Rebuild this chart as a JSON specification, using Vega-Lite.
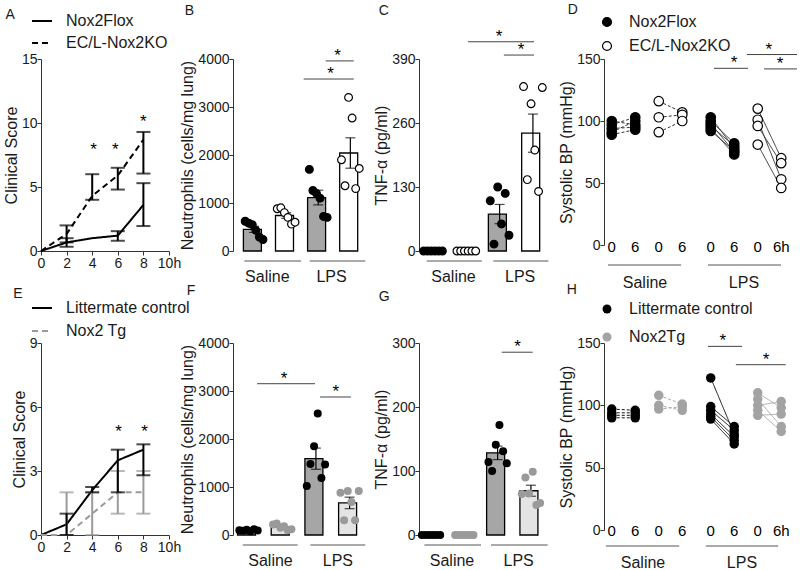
{
"$schema":"https://vega.github.io/schema/vega-lite/v6.json",
"padding":{"left":3,"top":3,"right":0,"bottom":0},
"columns":4,"bounds":"flush","align":"each",
"spacing":{"column":58,"row":92},
"resolve":{"scale":{"color":"independent","fill":"independent","stroke":"independent","strokeDash":"independent","xOffset":"independent"},"legend":{"color":"independent","fill":"independent","stroke":"independent","strokeDash":"independent"}},
"datasets":{
"A":[{"t":0,"s":"Nox2Flox","m":0},{"t":2,"s":"Nox2Flox","m":0.67,"lo":0.33,"hi":1.0},{"t":4,"s":"Nox2Flox","m":1.0},{"t":6,"s":"Nox2Flox","m":1.2,"lo":0.8,"hi":1.55},{"t":8,"s":"Nox2Flox","m":3.6,"lo":1.95,"hi":5.3},
{"t":0,"s":"EC/L-Nox2KO","m":0},{"t":2,"s":"EC/L-Nox2KO","m":1.33,"lo":0.67,"hi":2.0},{"t":4,"s":"EC/L-Nox2KO","m":4.3,"lo":4.0,"hi":6.0},{"t":6,"s":"EC/L-Nox2KO","m":5.9,"lo":4.8,"hi":6.5},{"t":8,"s":"EC/L-Nox2KO","m":8.7,"lo":6.05,"hi":9.3}],
"Astar":[{"t":4.1,"y":8.2},{"t":5.8,"y":8.2},{"t":8.0,"y":10.4}],
"E":[{"t":0,"s":"Littermate control","m":0},{"t":2,"s":"Littermate control","m":0.5,"lo":0,"hi":1.0},{"t":4,"s":"Littermate control","m":2.1,"lo":2.0,"hi":2.25},{"t":6,"s":"Littermate control","m":3.5,"lo":2.0,"hi":4.0},{"t":8,"s":"Littermate control","m":4.0,"lo":2.8,"hi":4.25},
{"t":0,"s":"Nox2 Tg","m":0},{"t":2,"s":"Nox2 Tg","m":0,"lo":0,"hi":2},{"t":4,"s":"Nox2 Tg","m":1,"lo":0,"hi":2},{"t":6,"s":"Nox2 Tg","m":2,"lo":1,"hi":3},{"t":8,"s":"Nox2 Tg","m":2,"lo":1,"hi":3}],
"Estar":[{"t":6.05,"y":5.0},{"t":8.1,"y":5.0}],
"B":[{"c":"S-F","a":"1","v":620},{"c":"S-F","a":"2","v":580},{"c":"S-F","a":"3","v":550},{"c":"S-F","a":"4","v":430},{"c":"S-F","a":"5","v":290},{"c":"S-F","a":"6","v":240},
{"c":"S-K","a":"1","v":880},{"c":"S-K","a":"2","v":900},{"c":"S-K","a":"3","v":800},{"c":"S-K","a":"4","v":700},{"c":"S-K","a":"5","v":560},{"c":"S-K","a":"6","v":600},
{"c":"L-F","a":"1","v":1700},{"c":"L-F","a":"2","v":1260},{"c":"L-F","a":"3","v":1200},{"c":"L-F","a":"4","v":1100},{"c":"L-F","a":"5","v":720},{"c":"L-F","a":"6","v":700},
{"c":"L-K","a":"3","v":3200},{"c":"L-K","a":"4","v":2770},{"c":"L-K","a":"1","v":1900},{"c":"L-K","a":"6","v":1720},{"c":"L-K","a":"2","v":1360},{"c":"L-K","a":"5","v":1300}],
"C":[{"c":"S-F","a":"1","v":0},{"c":"S-F","a":"2","v":0},{"c":"S-F","a":"3","v":0},{"c":"S-F","a":"4","v":0},{"c":"S-F","a":"5","v":0},{"c":"S-F","a":"6","v":0},
{"c":"S-K","a":"1","v":0},{"c":"S-K","a":"2","v":0},{"c":"S-K","a":"3","v":0},{"c":"S-K","a":"4","v":0},{"c":"S-K","a":"5","v":0},{"c":"S-K","a":"6","v":0},
{"c":"L-F","a":"3","v":130},{"c":"L-F","a":"5","v":117},{"c":"L-F","a":"1","v":102},{"c":"L-F","a":"4","v":55},{"c":"L-F","a":"6","v":32},{"c":"L-F","a":"2","v":14},
{"c":"L-K","a":"1","v":334},{"c":"L-K","a":"6","v":332},{"c":"L-K","a":"3","v":299},{"c":"L-K","a":"4","v":205},{"c":"L-K","a":"2","v":145},{"c":"L-K","a":"5","v":121}],
"F":[{"c":"S-F","a":"1","v":100},{"c":"S-F","a":"2","v":90},{"c":"S-F","a":"3","v":110},{"c":"S-F","a":"4","v":80},{"c":"S-F","a":"5","v":120},{"c":"S-F","a":"6","v":95},
{"c":"S-K","a":"1","v":220},{"c":"S-K","a":"2","v":240},{"c":"S-K","a":"3","v":150},{"c":"S-K","a":"4","v":180},{"c":"S-K","a":"5","v":100},{"c":"S-K","a":"6","v":120},
{"c":"L-F","a":"4","v":2530},{"c":"L-F","a":"3","v":1850},{"c":"L-F","a":"2","v":1480},{"c":"L-F","a":"6","v":1470},{"c":"L-F","a":"1","v":1020},{"c":"L-F","a":"5","v":1190},
{"c":"L-K","a":"1","v":880},{"c":"L-K","a":"3","v":915},{"c":"L-K","a":"6","v":915},{"c":"L-K","a":"4","v":690},{"c":"L-K","a":"2","v":305},{"c":"L-K","a":"5","v":305}],
"G":[{"c":"S-F","a":"1","v":0},{"c":"S-F","a":"2","v":0},{"c":"S-F","a":"3","v":0},{"c":"S-F","a":"4","v":0},{"c":"S-F","a":"5","v":0},{"c":"S-F","a":"6","v":0},
{"c":"S-K","a":"1","v":0},{"c":"S-K","a":"2","v":0},{"c":"S-K","a":"3","v":0},{"c":"S-K","a":"4","v":0},{"c":"S-K","a":"5","v":0},{"c":"S-K","a":"6","v":0},
{"c":"L-F","a":"4","v":172},{"c":"L-F","a":"3","v":141},{"c":"L-F","a":"1","v":114},{"c":"L-F","a":"5","v":131},{"c":"L-F","a":"6","v":112},{"c":"L-F","a":"2","v":100},
{"c":"L-K","a":"2","v":90},{"c":"L-K","a":"4","v":99},{"c":"L-K","a":"3","v":65},{"c":"L-K","a":"1","v":64},{"c":"L-K","a":"6","v":50},{"c":"L-K","a":"5","v":47}],
"D":[{"g":"Saline","s":"Nox2Flox","c":"F0","i":"a1","v":100},{"g":"Saline","s":"Nox2Flox","c":"F6","i":"a1","v":97},
{"g":"Saline","s":"Nox2Flox","c":"F0","i":"a2","v":97},{"g":"Saline","s":"Nox2Flox","c":"F6","i":"a2","v":103},
{"g":"Saline","s":"Nox2Flox","c":"F0","i":"a3","v":94},{"g":"Saline","s":"Nox2Flox","c":"F6","i":"a3","v":95},
{"g":"Saline","s":"Nox2Flox","c":"F0","i":"a4","v":91},{"g":"Saline","s":"Nox2Flox","c":"F6","i":"a4","v":100},
{"g":"Saline","s":"Nox2Flox","c":"F0","i":"a5","v":89},{"g":"Saline","s":"Nox2Flox","c":"F6","i":"a5","v":93},
{"g":"Saline","s":"EC/L-Nox2KO","c":"K0","i":"b1","v":116},{"g":"Saline","s":"EC/L-Nox2KO","c":"K6","i":"b1","v":107},
{"g":"Saline","s":"EC/L-Nox2KO","c":"K0","i":"b2","v":103},{"g":"Saline","s":"EC/L-Nox2KO","c":"K6","i":"b2","v":105},
{"g":"Saline","s":"EC/L-Nox2KO","c":"K0","i":"b3","v":91},{"g":"Saline","s":"EC/L-Nox2KO","c":"K6","i":"b3","v":100},
{"g":"LPS","s":"Nox2Flox","c":"F0","i":"c1","v":103},{"g":"LPS","s":"Nox2Flox","c":"F6","i":"c1","v":78},
{"g":"LPS","s":"Nox2Flox","c":"F0","i":"c2","v":100},{"g":"LPS","s":"Nox2Flox","c":"F6","i":"c2","v":82},
{"g":"LPS","s":"Nox2Flox","c":"F0","i":"c3","v":98},{"g":"LPS","s":"Nox2Flox","c":"F6","i":"c3","v":75},
{"g":"LPS","s":"Nox2Flox","c":"F0","i":"c4","v":96},{"g":"LPS","s":"Nox2Flox","c":"F6","i":"c4","v":80},
{"g":"LPS","s":"Nox2Flox","c":"F0","i":"c5","v":94},{"g":"LPS","s":"Nox2Flox","c":"F6","i":"c5","v":73},
{"g":"LPS","s":"Nox2Flox","c":"F0","i":"c6","v":92},{"g":"LPS","s":"Nox2Flox","c":"F6","i":"c6","v":76},
{"g":"LPS","s":"EC/L-Nox2KO","c":"K0","i":"d1","v":110},{"g":"LPS","s":"EC/L-Nox2KO","c":"K6","i":"d1","v":70},
{"g":"LPS","s":"EC/L-Nox2KO","c":"K0","i":"d2","v":101},{"g":"LPS","s":"EC/L-Nox2KO","c":"K6","i":"d2","v":53},
{"g":"LPS","s":"EC/L-Nox2KO","c":"K0","i":"d3","v":96},{"g":"LPS","s":"EC/L-Nox2KO","c":"K6","i":"d3","v":66},
{"g":"LPS","s":"EC/L-Nox2KO","c":"K0","i":"d4","v":81},{"g":"LPS","s":"EC/L-Nox2KO","c":"K6","i":"d4","v":46}],
"Dlab":[{"g":"Saline","c":"F0","l":"0"},{"g":"Saline","c":"F6","l":"6"},{"g":"Saline","c":"K0","l":"0"},{"g":"Saline","c":"K6","l":"6"},{"g":"LPS","c":"F0","l":"0"},{"g":"LPS","c":"F6","l":"6"},{"g":"LPS","c":"K0","l":"0"},{"g":"LPS","c":"K6","l":"6h"}],
"H":[{"g":"Saline","s":"Littermate control","c":"F0","i":"e1","v":97},{"g":"Saline","s":"Littermate control","c":"F6","i":"e1","v":96},
{"g":"Saline","s":"Littermate control","c":"F0","i":"e2","v":94},{"g":"Saline","s":"Littermate control","c":"F6","i":"e2","v":94},
{"g":"Saline","s":"Littermate control","c":"F0","i":"e3","v":92},{"g":"Saline","s":"Littermate control","c":"F6","i":"e3","v":92},
{"g":"Saline","s":"Littermate control","c":"F0","i":"e4","v":90},{"g":"Saline","s":"Littermate control","c":"F6","i":"e4","v":90},
{"g":"Saline","s":"Nox2Tg","c":"K0","i":"f1","v":108},{"g":"Saline","s":"Nox2Tg","c":"K6","i":"f1","v":101},
{"g":"Saline","s":"Nox2Tg","c":"K0","i":"f2","v":100},{"g":"Saline","s":"Nox2Tg","c":"K6","i":"f2","v":96},
{"g":"Saline","s":"Nox2Tg","c":"K0","i":"f3","v":97},{"g":"Saline","s":"Nox2Tg","c":"K6","i":"f3","v":99},
{"g":"LPS","s":"Littermate control","c":"F0","i":"h1","v":122},{"g":"LPS","s":"Littermate control","c":"F6","i":"h1","v":77},
{"g":"LPS","s":"Littermate control","c":"F0","i":"h2","v":99},{"g":"LPS","s":"Littermate control","c":"F6","i":"h2","v":83},
{"g":"LPS","s":"Littermate control","c":"F0","i":"h3","v":96},{"g":"LPS","s":"Littermate control","c":"F6","i":"h3","v":80},
{"g":"LPS","s":"Littermate control","c":"F0","i":"h4","v":93},{"g":"LPS","s":"Littermate control","c":"F6","i":"h4","v":75},
{"g":"LPS","s":"Littermate control","c":"F0","i":"h5","v":91},{"g":"LPS","s":"Littermate control","c":"F6","i":"h5","v":72},
{"g":"LPS","s":"Littermate control","c":"F0","i":"h6","v":89},{"g":"LPS","s":"Littermate control","c":"F6","i":"h6","v":69},
{"g":"LPS","s":"Nox2Tg","c":"K0","i":"j1","v":110},{"g":"LPS","s":"Nox2Tg","c":"K6","i":"j1","v":98},
{"g":"LPS","s":"Nox2Tg","c":"K0","i":"j2","v":105},{"g":"LPS","s":"Nox2Tg","c":"K6","i":"j2","v":83},
{"g":"LPS","s":"Nox2Tg","c":"K0","i":"j3","v":100},{"g":"LPS","s":"Nox2Tg","c":"K6","i":"j3","v":103},
{"g":"LPS","s":"Nox2Tg","c":"K0","i":"j4","v":96},{"g":"LPS","s":"Nox2Tg","c":"K6","i":"j4","v":79},
{"g":"LPS","s":"Nox2Tg","c":"K0","i":"j5","v":92},{"g":"LPS","s":"Nox2Tg","c":"K6","i":"j5","v":93}]
},
"concat":[
{"width":134,"height":192,"title":{"text":"A","offset":-12,"dx":2},
"layer":[
{"data":{"name":"A"},"mark":{"type":"line","color":"black","strokeWidth":2},
"encoding":{"x":{"field":"t","type":"quantitative","title":null,"scale":{"domain":[0,10],"nice":false,"range":[0,128]},"axis":{"values":[0,2,4,6,8,10],"tickCount":12,"labelExpr":"datum.value == 10 ? '10h' : datum.label","labelOverlap":false,"labelFlush":false,"labelPadding":1}},
"y":{"field":"m","type":"quantitative","title":"Clinical Score","scale":{"domain":[0,15],"nice":false},"axis":{"values":[0,5,10,15],"tickCount":10}},
"strokeDash":{"field":"s","type":"nominal","scale":{"domain":["Nox2Flox","EC/L-Nox2KO"],"range":[[1,0],[6,4]]},"legend":{"orient":"none","legendX":-10,"legendY":-49,"title":null,"symbolType":"stroke","symbolSize":400,"symbolStrokeWidth":2,"symbolStrokeColor":"black","rowPadding":3,"labelOffset":13}}}},
{"data":{"name":"A"},"transform":[{"filter":"isValid(datum.lo)"}],"mark":{"type":"errorbar","ticks":true,"size":14,"thickness":2,"color":"black"},
"encoding":{"x":{"field":"t","type":"quantitative","title":null},"y":{"field":"lo","type":"quantitative","title":"Clinical Score","scale":{"domain":[0,15],"nice":false}},"y2":{"field":"hi"}}},
{"data":{"name":"Astar"},"mark":{"type":"text","text":"*","fontSize":17,"baseline":"alphabetic","dy":9},
"encoding":{"x":{"field":"t","type":"quantitative","title":null},"y":{"field":"y","type":"quantitative","title":"Clinical Score"}}}
]},
{"width":128,"height":192,"title":{"text":"B","offset":29,"dx":5},"data":{"name":"B"},
"layer":[
{"mark":{"type":"bar","stroke":"black","strokeWidth":1.3},
"encoding":{"x":{"field":"c","type":"nominal","title":null,"scale":{"type":"band","domain":["S-F","S-K","L-F","L-K"],"paddingInner":0.336,"paddingOuter":0.162,"align":1},"axis":{"domain":false,"ticks":false,"labelAngle":0,"labelFontSize":16,"labelPadding":17,"labelOffset":13.3,"labelOverlap":false,"labelExpr":"datum.value == 'S-F' ? 'Saline' : datum.value == 'L-F' ? 'LPS' : ''"}},
"y":{"aggregate":"mean","field":"v","type":"quantitative","title":"Neutrophils (cells/mg lung)","scale":{"domain":[0,4000],"nice":false},"axis":{"values":[0,1000,2000,3000,4000],"tickCount":10,"format":"d"}},
"fill":{"field":"c","type":"nominal","scale":{"domain":["S-F","S-K","L-F","L-K"],"range":["#a6a6a6","white","#a6a6a6","white"]},"legend":null}}},
{"mark":{"type":"errorbar","extent":"stderr","ticks":true,"size":10,"thickness":1.2,"color":"black"},
"encoding":{"x":{"field":"c","type":"nominal","title":null},"y":{"field":"v","type":"quantitative","title":"Neutrophils (cells/mg lung)","scale":{"domain":[0,4000],"nice":false}}}},
{"mark":{"type":"point","filled":true,"size":60,"stroke":"black","strokeWidth":1.2,"opacity":1},
"encoding":{"x":{"field":"c","type":"nominal","title":null,"scale":{"type":"band","domain":["S-F","S-K","L-F","L-K"],"paddingInner":0.336,"paddingOuter":0.162,"align":1}},"xOffset":{"field":"a","type":"nominal","scale":{"domain":["1","2","3","4","5","6"],"paddingOuter":0.5}},"y":{"field":"v","type":"quantitative","title":"Neutrophils (cells/mg lung)","scale":{"domain":[0,4000],"nice":false}},
"color":{"field":"c","type":"nominal","scale":{"domain":["S-F","S-K","L-F","L-K"],"range":["black","white","black","white"]},"legend":null}}},
{"data":{"values":[{}]},"mark":{"type":"rule","color":"#555","yOffset":10},"encoding":{"x":{"datum":"S-F","type":"nominal","bandPosition":0.05},"x2":{"datum":"S-K","bandPosition":1.2},"y":{"datum":0,"type":"quantitative"}}},
{"data":{"values":[{}]},"mark":{"type":"rule","color":"#555","yOffset":10},"encoding":{"x":{"datum":"L-F","type":"nominal","bandPosition":0.1},"x2":{"datum":"L-K","bandPosition":1.2},"y":{"datum":0,"type":"quantitative"}}},
{"data":{"values":[{}]},"mark":{"type":"rule","color":"#444"},"encoding":{"x":{"datum":"S-K","type":"nominal","bandPosition":1.32},"x2":{"datum":"L-K","bandPosition":0.66},"y":{"datum":3583,"type":"quantitative"}}},
{"data":{"values":[{}]},"mark":{"type":"text","text":"*","fontSize":17,"baseline":"alphabetic","dy":0},"encoding":{"x":{"datum":"L-F","type":"nominal","bandPosition":1.08},"y":{"datum":3583,"type":"quantitative"}}},
{"data":{"values":[{}]},"mark":{"type":"rule","color":"#444"},"encoding":{"x":{"datum":"L-F","type":"nominal","bandPosition":0.85},"x2":{"datum":"L-K","bandPosition":0.66},"y":{"datum":3960,"type":"quantitative"}}},
{"data":{"values":[{}]},"mark":{"type":"text","text":"*","fontSize":17,"baseline":"alphabetic","dy":0},"encoding":{"x":{"datum":"L-F","type":"nominal","bandPosition":1.41},"y":{"datum":3960,"type":"quantitative"}}}
]},
{"width":127,"height":192,"title":{"text":"C","offset":10,"dx":5},"data":{"name":"C"},
"layer":[
{"mark":{"type":"bar","stroke":"black","strokeWidth":1.3},
"encoding":{"x":{"field":"c","type":"nominal","title":null,"scale":{"type":"band","domain":["S-F","S-K","L-F","L-K"],"paddingInner":0.325,"paddingOuter":0.069,"align":0.6},"axis":{"domain":false,"ticks":false,"labelAngle":0,"labelFontSize":16,"labelPadding":17,"labelOffset":20.5,"labelOverlap":false,"labelExpr":"datum.value == 'S-F' ? 'Saline' : datum.value == 'L-F' ? 'LPS' : ''"}},
"y":{"aggregate":"mean","field":"v","type":"quantitative","title":"TNF-α (pg/ml)","scale":{"domain":[0,390],"nice":false},"axis":{"values":[0,130,260,390],"tickCount":10}},
"fill":{"field":"c","type":"nominal","scale":{"domain":["S-F","S-K","L-F","L-K"],"range":["#a6a6a6","white","#a6a6a6","white"]},"legend":null}}},
{"mark":{"type":"errorbar","extent":"stderr","ticks":true,"size":10,"thickness":1.2,"color":"black"},
"encoding":{"x":{"field":"c","type":"nominal","title":null},"y":{"field":"v","type":"quantitative","title":"TNF-α (pg/ml)","scale":{"domain":[0,390],"nice":false}}}},
{"mark":{"type":"point","filled":true,"size":60,"stroke":"black","strokeWidth":1.2,"opacity":1},
"encoding":{"x":{"field":"c","type":"nominal","title":null,"scale":{"type":"band","domain":["S-F","S-K","L-F","L-K"],"paddingInner":0.325,"paddingOuter":0.069,"align":0.6}},"xOffset":{"field":"a","type":"nominal","scale":{"domain":["1","2","3","4","5","6"],"paddingOuter":0.5}},"y":{"field":"v","type":"quantitative","title":"TNF-α (pg/ml)","scale":{"domain":[0,390],"nice":false}},
"color":{"field":"c","type":"nominal","scale":{"domain":["S-F","S-K","L-F","L-K"],"range":["black","white","black","white"]},"legend":null}}},
{"data":{"values":[{}]},"mark":{"type":"rule","color":"#555","yOffset":10},"encoding":{"x":{"datum":"S-F","type":"nominal","bandPosition":0.22},"x2":{"datum":"S-K","bandPosition":1.19},"y":{"datum":0,"type":"quantitative"}}},
{"data":{"values":[{}]},"mark":{"type":"rule","color":"#555","yOffset":10},"encoding":{"x":{"datum":"L-F","type":"nominal","bandPosition":0.22},"x2":{"datum":"L-K","bandPosition":1.19},"y":{"datum":0,"type":"quantitative"}}},
{"data":{"values":[{}]},"mark":{"type":"rule","color":"#444"},"encoding":{"x":{"datum":"S-K","type":"nominal","bandPosition":0.58},"x2":{"datum":"L-K","bandPosition":0.55},"y":{"datum":425,"type":"quantitative"}}},
{"data":{"values":[{}]},"mark":{"type":"text","text":"*","fontSize":17,"baseline":"alphabetic","dy":0},"encoding":{"x":{"datum":"L-F","type":"nominal","bandPosition":0.47},"y":{"datum":425,"type":"quantitative"}}},
{"data":{"values":[{}]},"mark":{"type":"rule","color":"#444"},"encoding":{"x":{"datum":"L-F","type":"nominal","bandPosition":0.69},"x2":{"datum":"L-K","bandPosition":0.55},"y":{"datum":398,"type":"quantitative"}}},
{"data":{"values":[{}]},"mark":{"type":"text","text":"*","fontSize":17,"baseline":"alphabetic","dy":0},"encoding":{"x":{"datum":"L-F","type":"nominal","bandPosition":1.45},"y":{"datum":398,"type":"quantitative"}}}
]},
{"width":193,"height":186,"title":{"text":"D","offset":-3,"dx":9},
"layer":[
{"data":{"name":"D"},"mark":{"type":"line","strokeWidth":1,"color":"#333"},
"encoding":{"x":{"field":"g","type":"nominal","title":null,"scale":{"type":"band","domain":["Saline","LPS"],"paddingInner":0.05,"paddingOuter":0},"axis":{"domain":false,"ticks":false,"labelAngle":0,"labelFontSize":16,"labelPadding":29,"labelOffset":-6}},
"xOffset":{"field":"c","type":"nominal","scale":{"domain":["F0","F6","K0","K6"],"range":[-4,90]}},
"y":{"field":"v","type":"quantitative","title":"Systolic BP (mmHg)","scale":{"domain":[0,150],"nice":false},"axis":{"values":[0,50,100,150],"tickCount":10}},
"detail":{"field":"i"},"order":{"field":"c"},
"strokeDash":{"field":"g","type":"nominal","scale":{"domain":["Saline","LPS"],"range":[[3,2],[1,0]]},"legend":null}}},
{"data":{"name":"D"},"mark":{"type":"point","filled":true,"size":90,"stroke":"black","strokeWidth":1.2,"opacity":1},
"encoding":{"x":{"field":"g","type":"nominal","title":null},"xOffset":{"field":"c","type":"nominal"},"y":{"field":"v","type":"quantitative","title":"Systolic BP (mmHg)"},
"color":{"field":"s","type":"nominal","scale":{"domain":["Nox2Flox","EC/L-Nox2KO"],"range":["black","white"]},"legend":{"orient":"none","legendX":-5,"legendY":-45,"title":null,"symbolSize":80,"symbolStrokeColor":"black","symbolStrokeWidth":1.2,"rowPadding":8,"labelOffset":14}}}},
{"data":{"name":"Dlab"},"mark":{"type":"text","fontSize":15,"baseline":"middle","dy":2},
"encoding":{"x":{"field":"g","type":"nominal","title":null},"xOffset":{"field":"c","type":"nominal"},"y":{"datum":0,"type":"quantitative"},"text":{"field":"l"}}},
{"data":{"values":[{}]},"mark":{"type":"rule","color":"#555","yOffset":20},"encoding":{"x":{"datum":"Saline","type":"nominal","bandPosition":0.043},"x2":{"datum":"Saline","bandPosition":0.82},"y":{"datum":0,"type":"quantitative"}}},
{"data":{"values":[{}]},"mark":{"type":"rule","color":"#555","yOffset":20},"encoding":{"x":{"datum":"LPS","type":"nominal","bandPosition":0.053},"x2":{"datum":"LPS","bandPosition":0.83},"y":{"datum":0,"type":"quantitative"}}},
{"data":{"values":[{}]},"mark":{"type":"rule","color":"#444"},"encoding":{"x":{"datum":"LPS","type":"nominal","bandPosition":0.117},"x2":{"datum":"LPS","bandPosition":0.479},"y":{"datum":142.5,"type":"quantitative"}}},
{"data":{"values":[{}]},"mark":{"type":"text","text":"*","fontSize":17,"baseline":"alphabetic","dy":0},"encoding":{"x":{"datum":"LPS","type":"nominal","bandPosition":0.33},"y":{"datum":142.5,"type":"quantitative"}}},
{"data":{"values":[{}]},"mark":{"type":"rule","color":"#444"},"encoding":{"x":{"datum":"LPS","type":"nominal","bandPosition":0.468},"x2":{"datum":"LPS","bandPosition":1.0},"y":{"datum":153.6,"type":"quantitative"}}},
{"data":{"values":[{}]},"mark":{"type":"text","text":"*","fontSize":17,"baseline":"alphabetic","dy":0},"encoding":{"x":{"datum":"LPS","type":"nominal","bandPosition":0.70},"y":{"datum":153.6,"type":"quantitative"}}},
{"data":{"values":[{}]},"mark":{"type":"rule","color":"#444"},"encoding":{"x":{"datum":"LPS","type":"nominal","bandPosition":0.65},"x2":{"datum":"LPS","bandPosition":1.0},"y":{"datum":142,"type":"quantitative"}}},
{"data":{"values":[{}]},"mark":{"type":"text","text":"*","fontSize":17,"baseline":"alphabetic","dy":0},"encoding":{"x":{"datum":"LPS","type":"nominal","bandPosition":0.82},"y":{"datum":142,"type":"quantitative"}}}
]},
{"width":134,"height":192,"title":{"text":"E","offset":-4,"dx":2},
"layer":[
{"data":{"name":"E"},"mark":{"type":"line","strokeWidth":2},
"encoding":{"x":{"field":"t","type":"quantitative","title":null,"scale":{"domain":[0,10],"nice":false,"range":[0,128]},"axis":{"values":[0,2,4,6,8,10],"tickCount":12,"labelExpr":"datum.value == 10 ? '10h' : datum.label","labelOverlap":false,"labelFlush":false,"labelPadding":1}},
"y":{"field":"m","type":"quantitative","title":"Clinical Score","scale":{"domain":[0,9],"nice":false},"axis":{"values":[0,3,6,9],"tickCount":10}},
"color":{"field":"s","type":"nominal","scale":{"domain":["Littermate control","Nox2 Tg"],"range":["black","#9a9a9a"]},"legend":{"orient":"none","legendX":-10,"legendY":-46,"title":null,"symbolType":"stroke","symbolSize":400,"symbolStrokeWidth":2,"rowPadding":4,"labelOffset":13}},
"strokeDash":{"field":"s","type":"nominal","scale":{"domain":["Littermate control","Nox2 Tg"],"range":[[1,0],[6,4]]},"legend":{"orient":"none","legendX":-10,"legendY":-46,"title":null,"symbolType":"stroke","symbolSize":400,"symbolStrokeWidth":2,"rowPadding":4,"labelOffset":13}}}},
{"data":{"name":"E"},"transform":[{"filter":"isValid(datum.lo) && datum.s == 'Nox2 Tg'"}],"mark":{"type":"errorbar","ticks":true,"size":14,"thickness":2,"color":"#9a9a9a"},
"encoding":{"x":{"field":"t","type":"quantitative","title":null},"y":{"field":"lo","type":"quantitative","title":"Clinical Score","scale":{"domain":[0,9],"nice":false}},"y2":{"field":"hi"}}},
{"data":{"name":"E"},"transform":[{"filter":"isValid(datum.lo) && datum.s == 'Littermate control'"}],"mark":{"type":"errorbar","ticks":true,"size":14,"thickness":2,"color":"black"},
"encoding":{"x":{"field":"t","type":"quantitative","title":null},"y":{"field":"lo","type":"quantitative","title":"Clinical Score","scale":{"domain":[0,9],"nice":false}},"y2":{"field":"hi"}}},
{"data":{"name":"Estar"},"mark":{"type":"text","text":"*","fontSize":17,"baseline":"alphabetic","dy":9},
"encoding":{"x":{"field":"t","type":"quantitative","title":null},"y":{"field":"y","type":"quantitative","title":"Clinical Score"}}}
]},
{"width":128,"height":192,"title":{"text":"F","offset":38,"dx":7},"data":{"name":"F"},
"layer":[
{"mark":{"type":"bar","stroke":"black","strokeWidth":1.3},
"encoding":{"x":{"field":"c","type":"nominal","title":null,"scale":{"type":"band","domain":["S-F","S-K","L-F","L-K"],"paddingInner":0.347,"paddingOuter":0.073,"align":0.92},"axis":{"domain":false,"ticks":false,"labelAngle":0,"labelFontSize":16,"labelPadding":17,"labelOffset":22,"labelOverlap":false,"labelExpr":"datum.value == 'S-F' ? 'Saline' : datum.value == 'L-F' ? 'LPS' : ''"}},
"y":{"aggregate":"mean","field":"v","type":"quantitative","title":"Neutrophils (cells/mg lung)","scale":{"domain":[0,4000],"nice":false},"axis":{"values":[0,1000,2000,3000,4000],"tickCount":10,"format":"d"}},
"fill":{"field":"c","type":"nominal","scale":{"domain":["S-F","S-K","L-F","L-K"],"range":["#a6a6a6","#e4e4e4","#a6a6a6","#e4e4e4"]},"legend":null}}},
{"mark":{"type":"errorbar","extent":"stderr","ticks":true,"size":10,"thickness":1.2,"color":"black"},
"encoding":{"x":{"field":"c","type":"nominal","title":null},"y":{"field":"v","type":"quantitative","title":"Neutrophils (cells/mg lung)","scale":{"domain":[0,4000],"nice":false}}}},
{"mark":{"type":"point","filled":true,"size":64,"strokeWidth":0,"opacity":1},
"encoding":{"x":{"field":"c","type":"nominal","title":null,"scale":{"type":"band","domain":["S-F","S-K","L-F","L-K"],"paddingInner":0.347,"paddingOuter":0.073,"align":0.92}},"xOffset":{"field":"a","type":"nominal","scale":{"domain":["1","2","3","4","5","6"],"paddingOuter":0.5}},"y":{"field":"v","type":"quantitative","title":"Neutrophils (cells/mg lung)","scale":{"domain":[0,4000],"nice":false}},
"color":{"field":"c","type":"nominal","scale":{"domain":["S-F","S-K","L-F","L-K"],"range":["black","#9a9a9a","black","#9a9a9a"]},"legend":null}}},
{"data":{"values":[{}]},"mark":{"type":"rule","color":"#555","yOffset":10},"encoding":{"x":{"datum":"S-F","type":"nominal","bandPosition":0.24},"x2":{"datum":"S-K","bandPosition":1.2},"y":{"datum":0,"type":"quantitative"}}},
{"data":{"values":[{}]},"mark":{"type":"rule","color":"#555","yOffset":10},"encoding":{"x":{"datum":"L-F","type":"nominal","bandPosition":0.25},"x2":{"datum":"L-K","bandPosition":1.21},"y":{"datum":0,"type":"quantitative"}}},
{"data":{"values":[{}]},"mark":{"type":"rule","color":"#444"},"encoding":{"x":{"datum":"S-F","type":"nominal","bandPosition":0.89},"x2":{"datum":"L-F","bandPosition":0.46},"y":{"datum":3152,"type":"quantitative"}}},
{"data":{"values":[{}]},"mark":{"type":"text","text":"*","fontSize":17,"baseline":"alphabetic","dy":0},"encoding":{"x":{"datum":"S-K","type":"nominal","bandPosition":0.58},"y":{"datum":3152,"type":"quantitative"}}},
{"data":{"values":[{}]},"mark":{"type":"rule","color":"#444"},"encoding":{"x":{"datum":"L-F","type":"nominal","bandPosition":0.69},"x2":{"datum":"L-K","bandPosition":0.56},"y":{"datum":2875,"type":"quantitative"}}},
{"data":{"values":[{}]},"mark":{"type":"text","text":"*","fontSize":17,"baseline":"alphabetic","dy":0},"encoding":{"x":{"datum":"L-F","type":"nominal","bandPosition":1.41},"y":{"datum":2875,"type":"quantitative"}}}
]},
{"width":127,"height":192,"title":{"text":"G","offset":32,"dx":5},"data":{"name":"G"},
"layer":[
{"mark":{"type":"bar","stroke":"black","strokeWidth":1.3},
"encoding":{"x":{"field":"c","type":"nominal","title":null,"scale":{"type":"band","domain":["S-F","S-K","L-F","L-K"],"paddingInner":0.34,"paddingOuter":0.077,"align":0.2},"axis":{"domain":false,"ticks":false,"labelAngle":0,"labelFontSize":16,"labelPadding":17,"labelOffset":21,"labelOverlap":false,"labelExpr":"datum.value == 'S-F' ? 'Saline' : datum.value == 'L-F' ? 'LPS' : ''"}},
"y":{"aggregate":"mean","field":"v","type":"quantitative","title":"TNF-α (pg/ml)","scale":{"domain":[0,300],"nice":false},"axis":{"values":[0,100,200,300],"tickCount":10}},
"fill":{"field":"c","type":"nominal","scale":{"domain":["S-F","S-K","L-F","L-K"],"range":["#a6a6a6","#e4e4e4","#a6a6a6","#e4e4e4"]},"legend":null}}},
{"mark":{"type":"errorbar","extent":"stderr","ticks":true,"size":10,"thickness":1.2,"color":"black"},
"encoding":{"x":{"field":"c","type":"nominal","title":null},"y":{"field":"v","type":"quantitative","title":"TNF-α (pg/ml)","scale":{"domain":[0,300],"nice":false}}}},
{"mark":{"type":"point","filled":true,"size":64,"strokeWidth":0,"opacity":1},
"encoding":{"x":{"field":"c","type":"nominal","title":null,"scale":{"type":"band","domain":["S-F","S-K","L-F","L-K"],"paddingInner":0.34,"paddingOuter":0.077,"align":0.2}},"xOffset":{"field":"a","type":"nominal","scale":{"domain":["1","2","3","4","5","6"],"paddingOuter":0.5}},"y":{"field":"v","type":"quantitative","title":"TNF-α (pg/ml)","scale":{"domain":[0,300],"nice":false}},
"color":{"field":"c","type":"nominal","scale":{"domain":["S-F","S-K","L-F","L-K"],"range":["black","#9a9a9a","black","#9a9a9a"]},"legend":null}}},
{"data":{"values":[{}]},"mark":{"type":"rule","color":"#555","yOffset":10},"encoding":{"x":{"datum":"S-F","type":"nominal","bandPosition":0.2},"x2":{"datum":"S-K","bandPosition":1.26},"y":{"datum":0,"type":"quantitative"}}},
{"data":{"values":[{}]},"mark":{"type":"rule","color":"#555","yOffset":10},"encoding":{"x":{"datum":"L-F","type":"nominal","bandPosition":0.2},"x2":{"datum":"L-K","bandPosition":1.26},"y":{"datum":0,"type":"quantitative"}}},
{"data":{"values":[{}]},"mark":{"type":"rule","color":"#444"},"encoding":{"x":{"datum":"L-F","type":"nominal","bandPosition":0.69},"x2":{"datum":"L-K","bandPosition":0.58},"y":{"datum":285.6,"type":"quantitative"}}},
{"data":{"values":[{}]},"mark":{"type":"text","text":"*","fontSize":17,"baseline":"alphabetic","dy":0},"encoding":{"x":{"datum":"L-F","type":"nominal","bandPosition":1.41},"y":{"datum":285.6,"type":"quantitative"}}}
]},
{"width":193,"height":187,"title":{"text":"H","offset":4,"dx":8},
"layer":[
{"data":{"name":"H"},"transform":[{"filter":"datum.s == 'Littermate control'"}],"mark":{"type":"line","strokeWidth":1,"color":"#111"},
"encoding":{"x":{"field":"g","type":"nominal","title":null,"scale":{"type":"band","domain":["Saline","LPS"],"paddingInner":0.05,"paddingOuter":0},"axis":{"domain":false,"ticks":false,"labelAngle":0,"labelFontSize":16,"labelPadding":24,"labelOffset":-8}},
"xOffset":{"field":"c","type":"nominal","scale":{"domain":["F0","F6","K0","K6"],"range":[-4,90]}},
"y":{"field":"v","type":"quantitative","title":"Systolic BP (mmHg)","scale":{"domain":[0,150],"nice":false},"axis":{"values":[0,50,100,150],"tickCount":10}},
"detail":{"field":"i"},"order":{"field":"c"},
"strokeDash":{"field":"g","type":"nominal","scale":{"domain":["Saline","LPS"],"range":[[3,2],[1,0]]},"legend":null}}},
{"data":{"name":"H"},"transform":[{"filter":"datum.s == 'Nox2Tg'"}],"mark":{"type":"line","strokeWidth":1,"color":"#aaaaaa"},
"encoding":{"x":{"field":"g","type":"nominal","title":null},"xOffset":{"field":"c","type":"nominal"},"y":{"field":"v","type":"quantitative","title":"Systolic BP (mmHg)"},
"detail":{"field":"i"},"order":{"field":"c"},
"strokeDash":{"field":"g","type":"nominal","legend":null}}},
{"data":{"name":"H"},"mark":{"type":"point","filled":true,"size":90,"strokeWidth":0,"opacity":1},
"encoding":{"x":{"field":"g","type":"nominal","title":null},"xOffset":{"field":"c","type":"nominal"},"y":{"field":"v","type":"quantitative","title":"Systolic BP (mmHg)"},
"color":{"field":"s","type":"nominal","scale":{"domain":["Littermate control","Nox2Tg"],"range":["black","#a3a3a3"]},"legend":{"orient":"none","legendX":-5,"legendY":-42,"title":null,"symbolSize":80,"rowPadding":12,"labelOffset":14}}}},
{"data":{"name":"Dlab"},"mark":{"type":"text","fontSize":15,"baseline":"middle","dy":1},
"encoding":{"x":{"field":"g","type":"nominal","title":null},"xOffset":{"field":"c","type":"nominal"},"y":{"datum":0,"type":"quantitative"},"text":{"field":"l"}}},
{"data":{"values":[{}]},"mark":{"type":"rule","color":"#555","yOffset":16},"encoding":{"x":{"datum":"Saline","type":"nominal","bandPosition":0.02},"x2":{"datum":"Saline","bandPosition":0.8},"y":{"datum":0,"type":"quantitative"}}},
{"data":{"values":[{}]},"mark":{"type":"rule","color":"#555","yOffset":16},"encoding":{"x":{"datum":"LPS","type":"nominal","bandPosition":0.03},"x2":{"datum":"LPS","bandPosition":0.8},"y":{"datum":0,"type":"quantitative"}}},
{"data":{"values":[{}]},"mark":{"type":"rule","color":"#444"},"encoding":{"x":{"datum":"LPS","type":"nominal","bandPosition":0.053},"x2":{"datum":"LPS","bandPosition":0.415},"y":{"datum":147.3,"type":"quantitative"}}},
{"data":{"values":[{}]},"mark":{"type":"text","text":"*","fontSize":17,"baseline":"alphabetic","dy":0},"encoding":{"x":{"datum":"LPS","type":"nominal","bandPosition":0.21},"y":{"datum":147.3,"type":"quantitative"}}},
{"data":{"values":[{}]},"mark":{"type":"rule","color":"#444"},"encoding":{"x":{"datum":"LPS","type":"nominal","bandPosition":0.35},"x2":{"datum":"LPS","bandPosition":0.88},"y":{"datum":132.6,"type":"quantitative"}}},
{"data":{"values":[{}]},"mark":{"type":"text","text":"*","fontSize":17,"baseline":"alphabetic","dy":0},"encoding":{"x":{"datum":"LPS","type":"nominal","bandPosition":0.67},"y":{"datum":132.6,"type":"quantitative"}}}
]}
],
"config":{
"font":"Liberation Sans",
"view":{"stroke":null},
"mark":{"color":"black"},
"axis":{"labelFontSize":14,"labelColor":"#1a1a1a","titleFontSize":16,"titleFontWeight":"normal","titleColor":"#1a1a1a","domainColor":"#333","tickColor":"#333","tickSize":4,"grid":false,"labelPadding":0,"titlePadding":2},
"title":{"fontSize":14,"fontWeight":"normal","anchor":"start","color":"#1a1a1a"},
"legend":{"labelFontSize":16,"labelColor":"#1a1a1a"}
}
}
